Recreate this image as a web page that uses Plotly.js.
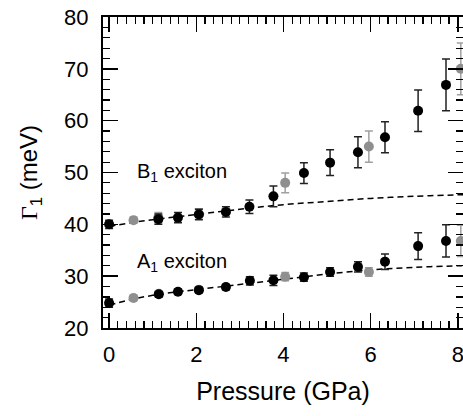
<!DOCTYPE html>
<html>
<head>
<meta charset="utf-8">
<script src="https://cdn.plot.ly/plotly-3.0.1.min.js"></script>
<style>html,body{margin:0;padding:0;overflow:hidden;background:#fff}</style>
</head>
<body>
<div id="chart" style="width:463px;height:416px;position:absolute;left:0;top:0"></div>
<pre id="dbg" style="font-size:9px;margin:0;position:absolute;left:110px;top:60px;z-index:10;color:rgba(255,255,255,0)"></pre>
<script>
// B1 exciton, black points
const b1BlackP = [0, 1.13, 1.58, 2.06, 2.68, 3.22, 3.77, 4.47, 5.07, 5.71, 6.33, 7.09, 7.73];
const b1BlackG = [40.0, 41.0, 41.3, 41.9, 42.4, 43.4, 45.4, 49.9, 51.9, 53.9, 56.8, 61.9, 66.9];
const b1BlackErr = [0.8, 1.0, 1.0, 1.0, 1.0, 1.3, 2.0, 2.0, 2.5, 3.0, 3.0, 4.0, 5.0];
// B1 exciton, gray points
const b1GrayP = [0.56, 1.13, 2.06, 4.04, 5.96, 8.07];
const b1GrayG = [40.8, 41.3, 42.0, 48.0, 55.0, 70.0];
const b1GrayErr = [0.6, 1.0, 1.0, 1.9, 3.0, 5.0];
// A1 exciton, black points
const a1BlackP = [0, 1.14, 1.58, 2.06, 2.68, 3.23, 3.77, 4.47, 5.07, 5.71, 6.33, 7.09, 7.73];
const a1BlackG = [24.8, 26.5, 27.0, 27.3, 27.9, 29.1, 29.2, 29.8, 30.8, 31.8, 32.8, 35.8, 36.8];
const a1BlackErr = [0.8, 0.5, 0.5, 0.5, 0.5, 0.8, 1.0, 0.8, 0.8, 1.0, 1.5, 2.6, 3.1];
// A1 exciton, gray points
const a1GrayP = [0.56, 1.14, 2.06, 4.04, 5.96, 8.07];
const a1GrayG = [25.8, 26.6, 27.4, 29.9, 30.8, 36.8];
const a1GrayErr = [0.5, 0.5, 0.5, 0.8, 0.8, 3.0];
// dashed fit curves
const fitP = [0, 0.5, 1, 1.5, 2, 3, 4, 5, 6, 7, 8, 8.2];
const b1Fit = [39.6, 40.3, 40.9, 41.4, 41.9, 42.9, 43.8, 44.4, 45.0, 45.4, 45.7, 45.75];
const a1Fit = [24.4, 25.5, 26.3, 26.9, 27.4, 28.4, 29.4, 30.4, 31.2, 31.7, 32.0, 32.05];
const xMajor = 2, xMinor = 0.2;
const yMajor = 10, yMinor = 2;

const BLACK = '#000000';
const GRAY = '#8f8f8f';
const FONT = 'Liberation Sans, Arial, sans-serif';

function pts(x, y, err, color, barColor) {
  return {
    type: 'scatter', mode: 'markers', x: x, y: y,
    marker: {color: color, size: 10},
    error_y: {type: 'data', array: err, visible: true, color: barColor, thickness: 1.5, width: 4},
    showlegend: false, hoverinfo: 'skip'
  };
}
function fit(y) {
  return {
    type: 'scatter', mode: 'lines', x: fitP, y: y,
    line: {color: BLACK, width: 1.5, dash: '6px,4px', shape: 'spline'},
    showlegend: false, hoverinfo: 'skip'
  };
}
const data = [
  fit(b1Fit), fit(a1Fit),
  pts(b1GrayP, b1GrayG, b1GrayErr, GRAY, '#a0a0a0'),
  pts(a1GrayP, a1GrayG, a1GrayErr, GRAY, '#a0a0a0'),
  pts(b1BlackP, b1BlackG, b1BlackErr, BLACK, '#222222'),
  pts(a1BlackP, a1BlackG, a1BlackErr, BLACK, '#222222')
];
const layout = {
  width: 463, height: 416,
  margin: {l: 103, r: 0, t: 17, b: 88},
  paper_bgcolor: '#fff', plot_bgcolor: '#fff',
  font: {family: FONT, color: '#000'},
  showlegend: false,
  xaxis: {
    range: [-0.14, 8.12], tickmode: 'linear', tick0: 0, dtick: xMajor,
    ticks: 'inside', ticklen: 15, tickwidth: 1.5, tickcolor: '#000',
    minor: {tickmode: 'linear', tick0: 0, dtick: xMinor, ticks: 'inside', ticklen: 7, tickwidth: 1.2, tickcolor: '#000', showgrid: false},
    showline: true, linewidth: 2, linecolor: '#000', mirror: 'ticks',
    showgrid: false, zeroline: false,
    tickfont: {family: FONT, size: 22, color: '#000'},
    ticklabelstandoff: 6, ticklabeloverflow: 'allow',
    title: {text: 'Pressure (GPa)', font: {family: FONT, size: 25, color: '#000'}, standoff: 16}
  },
  yaxis: {
    range: [20, 80], tickmode: 'linear', tick0: 20, dtick: yMajor,
    ticks: 'inside', ticklen: 15, tickwidth: 1.5, tickcolor: '#000',
    minor: {tickmode: 'linear', tick0: 20, dtick: yMinor, ticks: 'inside', ticklen: 7, tickwidth: 1.2, tickcolor: '#000', showgrid: false},
    showline: true, linewidth: 2, linecolor: '#000', mirror: 'ticks',
    showgrid: false, zeroline: false,
    tickfont: {family: FONT, size: 22, color: '#000'},
    ticklabelstandoff: 8,
    title: {text: '<span style="font-family:Liberation Serif">Γ</span><sub>1</sub> (meV)', font: {family: FONT, size: 24, color: '#000'}, standoff: 20}
  },
  annotations: [
    {x: 0.6, y: 50, xref: 'x', yref: 'y', xanchor: 'left', yanchor: 'middle', showarrow: false,
     text: 'B<sub>1</sub> exciton', font: {family: FONT, size: 20, color: '#000'}},
    {x: 0.6, y: 32.7, xref: 'x', yref: 'y', xanchor: 'left', yanchor: 'middle', showarrow: false,
     text: 'A<sub>1</sub> exciton', font: {family: FONT, size: 20, color: '#000'}}
  ]
};
Plotly.newPlot('chart', data, layout, {displayModeBar: false, staticPlot: true}).then(function () {
  const gd = document.getElementById('chart');
  const tk = gd.querySelectorAll('path.xtick.ticks, path.ytick.ticks');
  let s = '';
  for (let i = 0; i < Math.min(3, tk.length); i++) {
    const r = tk[i].getBoundingClientRect();
    s += getComputedStyle(tk[i]).opacity + getComputedStyle(tk[i]).visibility + Math.round(r.width + r.height);
  }
  document.getElementById('dbg').textContent = '\u00a0';
  document.getElementById('dbg').setAttribute('data-info', s);
});
</script>
</body>
</html>
